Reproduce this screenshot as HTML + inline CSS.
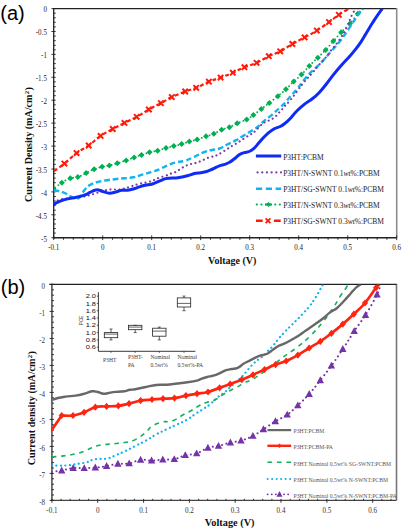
<!DOCTYPE html>
<html><head><meta charset="utf-8"><style>
html,body{margin:0;padding:0;background:#fff;}
svg{display:block;}
text{font-family:"Liberation Serif",serif;fill:#111;}
.tl{font-size:8px;fill:#222;}
.at{font-size:10px;font-weight:bold;}
.pl{font-family:"Liberation Sans",sans-serif;font-size:20px;fill:#000;}
.lg{font-size:7.5px;fill:#222;}
.lgb{font-size:5.7px;fill:#555;}
.ins{font-family:"Liberation Sans",sans-serif;font-size:5.8px;fill:#111;}
.insl{font-family:"Liberation Sans",sans-serif;font-size:4.6px;fill:#333;}
.insx{font-size:5.6px;fill:#3a3a3a;}
</style></head><body>
<svg width="410" height="529" viewBox="0 0 410 529">
<rect width="410" height="529" fill="#fff"/>
<path d="M53.7,8.6H396.7" stroke="#222" stroke-width="1.2"/><path d="M396.7,8.0V237.7" stroke="#8c8c8c" stroke-width="1.6"/>
<line x1="53.7" y1="8.0" x2="53.7" y2="238.29999999999998" stroke="#222" stroke-width="1.3"/>
<line x1="53.0" y1="237.7" x2="396.7" y2="237.7" stroke="#222" stroke-width="1.4"/>
<path d="M51.4,8.6H55.7 M53.7,13.2H55.8 M53.7,17.8H55.8 M53.7,22.3H55.8 M53.7,26.9H55.8 M51.4,31.5H55.7 M53.7,36.1H55.8 M53.7,40.7H55.8 M53.7,45.3H55.8 M53.7,49.8H55.8 M51.4,54.4H55.7 M53.7,59.0H55.8 M53.7,63.6H55.8 M53.7,68.2H55.8 M53.7,72.7H55.8 M51.4,77.3H55.7 M53.7,81.9H55.8 M53.7,86.5H55.8 M53.7,91.1H55.8 M53.7,95.7H55.8 M51.4,100.2H55.7 M53.7,104.8H55.8 M53.7,109.4H55.8 M53.7,114.0H55.8 M53.7,118.6H55.8 M51.4,123.1H55.7 M53.7,127.7H55.8 M53.7,132.3H55.8 M53.7,136.9H55.8 M53.7,141.5H55.8 M51.4,146.1H55.7 M53.7,150.6H55.8 M53.7,155.2H55.8 M53.7,159.8H55.8 M53.7,164.4H55.8 M51.4,169.0H55.7 M53.7,173.6H55.8 M53.7,178.1H55.8 M53.7,182.7H55.8 M53.7,187.3H55.8 M51.4,191.9H55.7 M53.7,196.5H55.8 M53.7,201.0H55.8 M53.7,205.6H55.8 M53.7,210.2H55.8 M51.4,214.8H55.7 M53.7,219.4H55.8 M53.7,224.0H55.8 M53.7,228.5H55.8 M53.7,233.1H55.8 M51.4,237.7H55.7 M53.7,235.4V240.1 M63.5,237.7V239.8 M73.3,237.7V239.8 M83.1,237.7V239.8 M92.9,237.7V239.8 M102.7,235.4V240.1 M112.5,237.7V239.8 M122.3,237.7V239.8 M132.1,237.7V239.8 M141.9,237.7V239.8 M151.7,235.4V240.1 M161.5,237.7V239.8 M171.3,237.7V239.8 M181.1,237.7V239.8 M190.9,237.7V239.8 M200.7,235.4V240.1 M210.5,237.7V239.8 M220.3,237.7V239.8 M230.1,237.7V239.8 M239.9,237.7V239.8 M249.7,235.4V240.1 M259.5,237.7V239.8 M269.3,237.7V239.8 M279.1,237.7V239.8 M288.9,237.7V239.8 M298.7,235.4V240.1 M308.5,237.7V239.8 M318.3,237.7V239.8 M328.1,237.7V239.8 M337.9,237.7V239.8 M347.7,235.4V240.1 M357.5,237.7V239.8 M367.3,237.7V239.8 M377.1,237.7V239.8 M386.9,237.7V239.8 M396.7,235.4V240.1" stroke="#222" stroke-width="0.9" fill="none"/>
<text transform="translate(46.9,12.4) scale(0.88,1)" text-anchor="end" class="tl">0</text>
<text transform="translate(46.9,35.3) scale(0.88,1)" text-anchor="end" class="tl">-0.5</text>
<text transform="translate(46.9,58.2) scale(0.88,1)" text-anchor="end" class="tl">-1</text>
<text transform="translate(46.9,81.1) scale(0.88,1)" text-anchor="end" class="tl">-1.5</text>
<text transform="translate(46.9,104.0) scale(0.88,1)" text-anchor="end" class="tl">-2</text>
<text transform="translate(46.9,126.9) scale(0.88,1)" text-anchor="end" class="tl">-2.5</text>
<text transform="translate(46.9,149.9) scale(0.88,1)" text-anchor="end" class="tl">-3</text>
<text transform="translate(46.9,172.8) scale(0.88,1)" text-anchor="end" class="tl">-3.5</text>
<text transform="translate(46.9,195.7) scale(0.88,1)" text-anchor="end" class="tl">-4</text>
<text transform="translate(46.9,218.6) scale(0.88,1)" text-anchor="end" class="tl">-4.5</text>
<text transform="translate(46.9,241.5) scale(0.88,1)" text-anchor="end" class="tl">-5</text>
<text transform="translate(53.7,250.2) scale(0.88,1)" text-anchor="middle" class="tl">-0.1</text>
<text transform="translate(102.7,250.2) scale(0.88,1)" text-anchor="middle" class="tl">0</text>
<text transform="translate(151.7,250.2) scale(0.88,1)" text-anchor="middle" class="tl">0.1</text>
<text transform="translate(200.7,250.2) scale(0.88,1)" text-anchor="middle" class="tl">0.2</text>
<text transform="translate(249.7,250.2) scale(0.88,1)" text-anchor="middle" class="tl">0.3</text>
<text transform="translate(298.7,250.2) scale(0.88,1)" text-anchor="middle" class="tl">0.4</text>
<text transform="translate(347.7,250.2) scale(0.88,1)" text-anchor="middle" class="tl">0.5</text>
<text transform="translate(396.7,250.2) scale(0.88,1)" text-anchor="middle" class="tl">0.6</text>
<text x="232.2" y="263.8" text-anchor="middle" class="at">Voltage (V)</text>
<text transform="translate(32.4,202) rotate(-90)" class="at" style="font-size:10.1px">Current Density (mA/cm<tspan dy="-3.6" dx="0.2" font-size="6.8">2</tspan><tspan dy="3.6" dx="0.5">)</tspan></text>
<text x="0.3" y="19.9" class="pl">(a)</text>
<path d="M396.5,283.79999999999995V500.4" stroke="#777" stroke-width="1.6"/>
<line x1="51.9" y1="283.79999999999995" x2="51.9" y2="501.0" stroke="#555" stroke-width="1.6"/>
<line x1="49.4" y1="284.4" x2="396.5" y2="284.4" stroke="#222" stroke-width="1.3"/>
<line x1="51.199999999999996" y1="500.4" x2="396.5" y2="500.4" stroke="#444" stroke-width="1.3"/>
<path d="M49.6,284.4H53.9 M51.9,289.8H54.0 M51.9,295.2H54.0 M51.9,300.6H54.0 M51.9,306.0H54.0 M49.6,311.4H53.9 M51.9,316.8H54.0 M51.9,322.2H54.0 M51.9,327.6H54.0 M51.9,333.0H54.0 M49.6,338.4H53.9 M51.9,343.8H54.0 M51.9,349.2H54.0 M51.9,354.6H54.0 M51.9,360.0H54.0 M49.6,365.4H53.9 M51.9,370.8H54.0 M51.9,376.2H54.0 M51.9,381.6H54.0 M51.9,387.0H54.0 M49.6,392.4H53.9 M51.9,397.8H54.0 M51.9,403.2H54.0 M51.9,408.6H54.0 M51.9,414.0H54.0 M49.6,419.4H53.9 M51.9,424.8H54.0 M51.9,430.2H54.0 M51.9,435.6H54.0 M51.9,441.0H54.0 M49.6,446.4H53.9 M51.9,451.8H54.0 M51.9,457.2H54.0 M51.9,462.6H54.0 M51.9,468.0H54.0 M49.6,473.4H53.9 M51.9,478.8H54.0 M51.9,484.2H54.0 M51.9,489.6H54.0 M51.9,495.0H54.0 M49.6,500.4H53.9 M51.9,498.9V502.8 M61.1,498.8V500.4 M70.2,498.8V500.4 M79.4,498.8V500.4 M88.6,498.8V500.4 M97.7,498.9V502.8 M106.9,498.8V500.4 M116.1,498.8V500.4 M125.2,498.8V500.4 M134.4,498.8V500.4 M143.6,498.9V502.8 M152.7,498.8V500.4 M161.9,498.8V500.4 M171.1,498.8V500.4 M180.2,498.8V500.4 M189.4,498.9V502.8 M198.6,498.8V500.4 M207.7,498.8V500.4 M216.9,498.8V500.4 M226.0,498.8V500.4 M235.2,498.9V502.8 M244.4,498.8V500.4 M253.5,498.8V500.4 M262.7,498.8V500.4 M271.9,498.8V500.4 M281.0,498.9V502.8 M290.2,498.8V500.4 M299.4,498.8V500.4 M308.5,498.8V500.4 M317.7,498.8V500.4 M326.9,498.9V502.8 M336.0,498.8V500.4 M345.2,498.8V500.4 M354.4,498.8V500.4 M363.5,498.8V500.4 M372.7,498.9V502.8 M381.9,498.8V500.4 M391.0,498.8V500.4" stroke="#222" stroke-width="0.9" fill="none"/>
<text transform="translate(45.1,288.6) scale(0.84,1)" text-anchor="end" class="tl" style="font-size:8.4px;fill:#333">0</text>
<text transform="translate(45.1,315.6) scale(0.84,1)" text-anchor="end" class="tl" style="font-size:8.4px;fill:#333">-1</text>
<text transform="translate(45.1,342.6) scale(0.84,1)" text-anchor="end" class="tl" style="font-size:8.4px;fill:#333">-2</text>
<text transform="translate(45.1,369.6) scale(0.84,1)" text-anchor="end" class="tl" style="font-size:8.4px;fill:#333">-3</text>
<text transform="translate(45.1,396.6) scale(0.84,1)" text-anchor="end" class="tl" style="font-size:8.4px;fill:#333">-4</text>
<text transform="translate(45.1,423.6) scale(0.84,1)" text-anchor="end" class="tl" style="font-size:8.4px;fill:#333">-5</text>
<text transform="translate(45.1,450.6) scale(0.84,1)" text-anchor="end" class="tl" style="font-size:8.4px;fill:#333">-6</text>
<text transform="translate(45.1,477.6) scale(0.84,1)" text-anchor="end" class="tl" style="font-size:8.4px;fill:#333">-7</text>
<text transform="translate(45.1,504.6) scale(0.84,1)" text-anchor="end" class="tl" style="font-size:8.4px;fill:#333">-8</text>
<text transform="translate(51.9,513.3) scale(0.84,1)" text-anchor="middle" class="tl" style="font-size:8.4px;fill:#333">-0.1</text>
<text transform="translate(97.7,513.3) scale(0.84,1)" text-anchor="middle" class="tl" style="font-size:8.4px;fill:#333">0</text>
<text transform="translate(143.6,513.3) scale(0.84,1)" text-anchor="middle" class="tl" style="font-size:8.4px;fill:#333">0.1</text>
<text transform="translate(189.4,513.3) scale(0.84,1)" text-anchor="middle" class="tl" style="font-size:8.4px;fill:#333">0.2</text>
<text transform="translate(235.2,513.3) scale(0.84,1)" text-anchor="middle" class="tl" style="font-size:8.4px;fill:#333">0.3</text>
<text transform="translate(281.0,513.3) scale(0.84,1)" text-anchor="middle" class="tl" style="font-size:8.4px;fill:#333">0.4</text>
<text transform="translate(326.9,513.3) scale(0.84,1)" text-anchor="middle" class="tl" style="font-size:8.4px;fill:#333">0.5</text>
<text transform="translate(372.7,513.3) scale(0.84,1)" text-anchor="middle" class="tl" style="font-size:8.4px;fill:#333">0.6</text>
<text x="229.7" y="526" text-anchor="middle" class="at" style="font-size:10.3px">Voltage (V)</text>
<text transform="translate(35.4,465.3) rotate(-90)" class="at" style="font-size:10.2px">Current density (mA/cm<tspan dy="-3.6" dx="0.2" font-size="6.8">2</tspan><tspan dy="3.6" dx="0.5">)</tspan></text>
<text x="0.8" y="294" class="pl">(b)</text>
<svg x="53.7" y="8.6" width="343.0" height="229.1" viewBox="53.7 8.6 343.0 229.1" overflow="hidden"><g fill="none" stroke-linejoin="round">
<path d="M53.9,171.2 C56.0,169.7 59.9,167.2 64.4,163.6 C68.9,160.0 71.7,156.7 76.6,153.1 C81.5,149.5 83.9,148.9 88.7,145.5 C93.5,142.1 95.8,139.2 100.6,135.9 C105.4,132.6 108.0,131.6 112.8,129.0 C117.6,126.4 119.7,125.3 124.5,122.9 C129.3,120.5 131.8,119.5 136.7,116.8 C141.6,114.1 144.1,112.2 148.9,109.5 C153.7,106.8 156.3,105.7 160.9,103.2 C165.5,100.7 166.9,99.4 171.8,97.1 C176.7,94.8 180.3,93.4 185.2,91.5 C190.1,89.6 191.5,89.8 196.2,87.8 C200.9,85.8 204.0,83.7 208.9,81.7 C213.8,79.7 215.8,79.4 220.6,77.6 C225.4,75.8 228.0,74.8 232.8,72.7 C237.6,70.6 239.6,69.2 244.4,67.2 C249.2,65.2 251.7,65.0 256.6,62.8 C261.5,60.6 264.1,58.5 268.8,56.2 C273.5,53.9 275.5,53.7 280.2,51.3 C284.9,48.9 287.5,46.8 292.4,44.0 C297.3,41.2 299.7,40.1 304.6,37.4 C309.5,34.7 311.9,33.7 316.8,30.6 C321.7,27.5 324.6,25.3 329.0,22.1 C333.4,18.9 334.8,17.5 338.8,14.8 C342.8,12.1 347.0,9.8 349.0,8.6" stroke="#ff1a0a" stroke-width="2.2" stroke-dasharray="4.2 2.6"/>
<path d="M61.7,160.9L67.1,166.3M61.7,166.3L67.1,160.9" stroke="#ff1a0a" stroke-width="2"/>
<path d="M73.9,150.4L79.3,155.8M73.9,155.8L79.3,150.4" stroke="#ff1a0a" stroke-width="2"/>
<path d="M86.0,142.8L91.4,148.2M86.0,148.2L91.4,142.8" stroke="#ff1a0a" stroke-width="2"/>
<path d="M97.9,133.2L103.3,138.6M97.9,138.6L103.3,133.2" stroke="#ff1a0a" stroke-width="2"/>
<path d="M110.1,126.3L115.5,131.7M110.1,131.7L115.5,126.3" stroke="#ff1a0a" stroke-width="2"/>
<path d="M121.8,120.2L127.2,125.6M121.8,125.6L127.2,120.2" stroke="#ff1a0a" stroke-width="2"/>
<path d="M134.0,114.1L139.4,119.5M134.0,119.5L139.4,114.1" stroke="#ff1a0a" stroke-width="2"/>
<path d="M146.2,106.8L151.6,112.2M146.2,112.2L151.6,106.8" stroke="#ff1a0a" stroke-width="2"/>
<path d="M158.2,100.5L163.6,105.9M158.2,105.9L163.6,100.5" stroke="#ff1a0a" stroke-width="2"/>
<path d="M169.1,94.4L174.5,99.8M169.1,99.8L174.5,94.4" stroke="#ff1a0a" stroke-width="2"/>
<path d="M182.5,88.8L187.9,94.2M182.5,94.2L187.9,88.8" stroke="#ff1a0a" stroke-width="2"/>
<path d="M193.5,85.1L198.9,90.5M193.5,90.5L198.9,85.1" stroke="#ff1a0a" stroke-width="2"/>
<path d="M206.2,79.0L211.6,84.4M206.2,84.4L211.6,79.0" stroke="#ff1a0a" stroke-width="2"/>
<path d="M217.9,74.9L223.3,80.3M217.9,80.3L223.3,74.9" stroke="#ff1a0a" stroke-width="2"/>
<path d="M230.1,70.0L235.5,75.4M230.1,75.4L235.5,70.0" stroke="#ff1a0a" stroke-width="2"/>
<path d="M241.7,64.5L247.1,69.9M241.7,69.9L247.1,64.5" stroke="#ff1a0a" stroke-width="2"/>
<path d="M253.9,60.1L259.3,65.5M253.9,65.5L259.3,60.1" stroke="#ff1a0a" stroke-width="2"/>
<path d="M266.1,53.5L271.5,58.9M266.1,58.9L271.5,53.5" stroke="#ff1a0a" stroke-width="2"/>
<path d="M277.5,48.6L282.9,54.0M277.5,54.0L282.9,48.6" stroke="#ff1a0a" stroke-width="2"/>
<path d="M289.7,41.3L295.1,46.7M289.7,46.7L295.1,41.3" stroke="#ff1a0a" stroke-width="2"/>
<path d="M301.9,34.7L307.3,40.1M301.9,40.1L307.3,34.7" stroke="#ff1a0a" stroke-width="2"/>
<path d="M314.1,27.9L319.5,33.3M314.1,33.3L319.5,27.9" stroke="#ff1a0a" stroke-width="2"/>
<path d="M326.3,19.4L331.7,24.8M326.3,24.8L331.7,19.4" stroke="#ff1a0a" stroke-width="2"/>
<path d="M336.1,12.1L341.5,17.5M336.1,17.5L341.5,12.1" stroke="#ff1a0a" stroke-width="2"/>
<path d="M53.7,189.0 C55.3,187.7 58.5,184.8 61.8,182.7 C65.1,180.6 67.1,179.4 70.3,178.3 C73.5,177.2 74.7,178.2 77.9,177.1 C81.1,176.0 83.0,174.5 86.2,172.9 C89.4,171.3 90.9,170.5 94.1,169.3 C97.3,168.1 99.0,167.6 102.1,166.8 C105.2,166.0 106.4,166.1 109.4,165.4 C112.4,164.7 114.0,164.3 117.3,163.3 C120.6,162.3 122.7,161.6 126.1,160.4 C129.5,159.2 131.0,158.5 134.1,157.4 C137.2,156.3 138.4,156.0 141.5,155.0 C144.6,154.0 146.3,153.2 149.5,152.3 C152.7,151.4 154.3,151.6 157.6,150.7 C160.9,149.8 162.8,148.9 166.0,148.0 C169.2,147.1 170.7,146.9 173.8,146.1 C176.9,145.3 178.5,145.0 181.6,144.1 C184.7,143.2 186.3,142.5 189.4,141.6 C192.5,140.7 193.9,140.6 197.2,139.5 C200.5,138.4 202.7,137.4 206.0,136.3 C209.3,135.2 210.7,135.1 213.8,133.8 C216.9,132.5 218.5,131.0 221.6,129.7 C224.7,128.4 226.3,128.5 229.4,127.2 C232.5,125.9 233.7,124.9 237.2,123.3 C240.7,121.7 243.5,121.0 246.7,119.4 C249.9,117.8 250.5,117.2 253.4,115.1 C256.3,113.0 258.1,111.4 261.3,109.0 C264.5,106.6 266.0,105.5 269.3,102.9 C272.6,100.3 274.5,98.9 277.8,96.2 C281.1,93.5 282.7,92.2 285.9,89.3 C289.1,86.4 290.6,84.4 293.7,81.5 C296.8,78.6 298.4,77.7 301.5,74.6 C304.6,71.5 306.0,69.3 309.3,65.9 C312.6,62.5 314.5,60.9 317.8,57.7 C321.1,54.5 322.5,53.2 325.6,49.9 C328.7,46.6 330.3,44.6 333.4,41.1 C336.5,37.6 337.9,35.8 341.2,32.3 C344.5,28.8 346.7,27.2 350.0,23.5 C353.3,19.8 355.1,16.8 357.8,13.8 C360.5,10.8 362.5,9.6 363.7,8.6" stroke="#00b050" stroke-width="1.8" stroke-dasharray="0.1 4" stroke-dashoffset="-2" stroke-linecap="round"/>
<path d="M53.7,186.0L56.7,189.0L53.7,192.0L50.7,189.0Z" fill="#00b050" stroke="none"/>
<path d="M61.8,179.7L64.8,182.7L61.8,185.7L58.8,182.7Z" fill="#00b050" stroke="none"/>
<path d="M70.3,175.3L73.3,178.3L70.3,181.3L67.3,178.3Z" fill="#00b050" stroke="none"/>
<path d="M77.9,174.1L80.9,177.1L77.9,180.1L74.9,177.1Z" fill="#00b050" stroke="none"/>
<path d="M86.2,169.9L89.2,172.9L86.2,175.9L83.2,172.9Z" fill="#00b050" stroke="none"/>
<path d="M94.1,166.3L97.1,169.3L94.1,172.3L91.1,169.3Z" fill="#00b050" stroke="none"/>
<path d="M102.1,163.8L105.1,166.8L102.1,169.8L99.1,166.8Z" fill="#00b050" stroke="none"/>
<path d="M109.4,162.4L112.4,165.4L109.4,168.4L106.4,165.4Z" fill="#00b050" stroke="none"/>
<path d="M117.3,160.3L120.3,163.3L117.3,166.3L114.3,163.3Z" fill="#00b050" stroke="none"/>
<path d="M126.1,157.4L129.1,160.4L126.1,163.4L123.1,160.4Z" fill="#00b050" stroke="none"/>
<path d="M134.1,154.4L137.1,157.4L134.1,160.4L131.1,157.4Z" fill="#00b050" stroke="none"/>
<path d="M141.5,152.0L144.5,155.0L141.5,158.0L138.5,155.0Z" fill="#00b050" stroke="none"/>
<path d="M149.5,149.3L152.5,152.3L149.5,155.3L146.5,152.3Z" fill="#00b050" stroke="none"/>
<path d="M157.6,147.7L160.6,150.7L157.6,153.7L154.6,150.7Z" fill="#00b050" stroke="none"/>
<path d="M166.0,145.0L169.0,148.0L166.0,151.0L163.0,148.0Z" fill="#00b050" stroke="none"/>
<path d="M173.8,143.1L176.8,146.1L173.8,149.1L170.8,146.1Z" fill="#00b050" stroke="none"/>
<path d="M181.6,141.1L184.6,144.1L181.6,147.1L178.6,144.1Z" fill="#00b050" stroke="none"/>
<path d="M189.4,138.6L192.4,141.6L189.4,144.6L186.4,141.6Z" fill="#00b050" stroke="none"/>
<path d="M197.2,136.5L200.2,139.5L197.2,142.5L194.2,139.5Z" fill="#00b050" stroke="none"/>
<path d="M206.0,133.3L209.0,136.3L206.0,139.3L203.0,136.3Z" fill="#00b050" stroke="none"/>
<path d="M213.8,130.8L216.8,133.8L213.8,136.8L210.8,133.8Z" fill="#00b050" stroke="none"/>
<path d="M221.6,126.7L224.6,129.7L221.6,132.7L218.6,129.7Z" fill="#00b050" stroke="none"/>
<path d="M229.4,124.2L232.4,127.2L229.4,130.2L226.4,127.2Z" fill="#00b050" stroke="none"/>
<path d="M237.2,120.3L240.2,123.3L237.2,126.3L234.2,123.3Z" fill="#00b050" stroke="none"/>
<path d="M246.7,116.4L249.7,119.4L246.7,122.4L243.7,119.4Z" fill="#00b050" stroke="none"/>
<path d="M253.4,112.1L256.4,115.1L253.4,118.1L250.4,115.1Z" fill="#00b050" stroke="none"/>
<path d="M261.3,106.0L264.3,109.0L261.3,112.0L258.3,109.0Z" fill="#00b050" stroke="none"/>
<path d="M269.3,99.9L272.3,102.9L269.3,105.9L266.3,102.9Z" fill="#00b050" stroke="none"/>
<path d="M277.8,93.2L280.8,96.2L277.8,99.2L274.8,96.2Z" fill="#00b050" stroke="none"/>
<path d="M285.9,86.3L288.9,89.3L285.9,92.3L282.9,89.3Z" fill="#00b050" stroke="none"/>
<path d="M293.7,78.5L296.7,81.5L293.7,84.5L290.7,81.5Z" fill="#00b050" stroke="none"/>
<path d="M301.5,71.6L304.5,74.6L301.5,77.6L298.5,74.6Z" fill="#00b050" stroke="none"/>
<path d="M309.3,62.9L312.3,65.9L309.3,68.9L306.3,65.9Z" fill="#00b050" stroke="none"/>
<path d="M317.8,54.7L320.8,57.7L317.8,60.7L314.8,57.7Z" fill="#00b050" stroke="none"/>
<path d="M325.6,46.9L328.6,49.9L325.6,52.9L322.6,49.9Z" fill="#00b050" stroke="none"/>
<path d="M333.4,38.1L336.4,41.1L333.4,44.1L330.4,41.1Z" fill="#00b050" stroke="none"/>
<path d="M341.2,29.3L344.2,32.3L341.2,35.3L338.2,32.3Z" fill="#00b050" stroke="none"/>
<path d="M350.0,20.5L353.0,23.5L350.0,26.5L347.0,23.5Z" fill="#00b050" stroke="none"/>
<path d="M357.8,10.8L360.8,13.8L357.8,16.8L354.8,13.8Z" fill="#00b050" stroke="none"/>
<path d="M53.7,190.7 C54.7,190.8 56.7,190.5 58.9,191.0 C61.1,191.5 62.3,191.9 64.7,193.0 C67.1,194.1 68.5,195.3 71.0,196.5 C73.5,197.7 75.1,199.3 77.1,199.0 C79.1,198.7 79.4,196.9 81.0,195.0 C82.6,193.1 83.2,191.4 85.0,189.4 C86.8,187.4 87.5,186.6 89.9,185.1 C92.3,183.6 93.8,183.1 97.2,182.1 C100.6,181.1 103.1,180.8 107.0,180.2 C110.9,179.6 113.1,179.4 116.7,179.0 C120.3,178.6 121.8,178.5 125.2,178.2 C128.6,177.9 130.2,178.0 133.6,177.3 C137.0,176.6 138.7,175.7 142.2,174.7 C145.7,173.7 147.5,173.2 151.0,172.1 C154.5,171.0 157.0,170.2 159.8,169.1 C162.6,168.0 162.0,167.9 165.0,166.6 C168.0,165.3 170.9,163.7 174.8,162.6 C178.7,161.5 180.6,162.1 184.5,160.9 C188.4,159.7 190.4,158.5 194.3,156.8 C198.2,155.1 200.5,153.6 204.0,152.2 C207.5,150.8 208.7,150.7 211.8,150.0 C214.9,149.3 216.5,149.6 219.6,148.5 C222.7,147.4 224.0,146.1 227.2,144.5 C230.4,142.9 232.5,142.1 235.7,140.4 C238.9,138.7 239.7,138.0 243.0,136.0 C246.3,134.0 249.1,132.3 252.2,130.4 C255.3,128.5 255.9,128.5 258.3,126.5 C260.7,124.5 261.7,122.9 264.4,120.6 C267.1,118.3 268.8,117.5 271.7,115.1 C274.6,112.7 276.3,110.8 279.0,108.4 C281.7,106.0 282.9,105.2 285.1,102.9 C287.3,100.6 287.6,99.6 290.0,96.8 C292.4,94.0 294.4,92.3 297.3,88.8 C300.2,85.3 301.7,82.8 304.6,79.3 C307.5,75.8 309.1,74.1 312.0,71.2 C314.9,68.3 316.4,67.5 319.3,64.6 C322.2,61.7 324.3,59.3 326.6,56.6 C328.9,53.9 328.5,54.2 331.0,51.3 C333.5,48.4 335.7,46.7 339.3,42.1 C342.9,37.5 345.5,33.5 349.0,28.4 C352.5,23.3 354.1,20.7 356.8,16.7 C359.5,12.7 361.5,10.2 362.7,8.6" stroke="#10b4f0" stroke-width="2.4" stroke-dasharray="5.5 3"/>
<path d="M53.7,202.4 C55.0,201.8 57.5,200.3 60.3,199.5 C63.1,198.7 64.7,198.7 67.6,198.3 C70.5,197.9 71.7,197.9 75.0,197.6 C78.3,197.3 80.3,197.3 84.0,196.6 C87.7,195.9 89.9,195.2 93.5,194.1 C97.1,193.0 98.7,192.1 102.1,191.2 C105.5,190.3 107.2,189.7 110.6,189.4 C114.0,189.1 116.4,189.8 119.1,189.6 C121.8,189.4 121.3,189.3 124.0,188.6 C126.7,187.9 129.5,186.9 132.6,185.9 C135.7,184.9 136.2,184.6 139.3,183.8 C142.4,183.0 145.1,182.8 148.0,182.1 C150.9,181.4 151.8,180.9 153.9,180.1 C156.0,179.3 156.0,178.9 158.3,178.0 C160.6,177.1 163.3,176.6 165.6,175.8 C167.9,175.0 168.3,174.5 170.0,173.9 C171.7,173.3 172.7,173.3 174.3,172.6 C175.9,171.9 176.3,171.6 177.9,170.6 C179.5,169.6 180.5,168.8 182.2,167.8 C183.9,166.8 184.8,166.2 186.5,165.5 C188.2,164.8 189.0,164.6 190.7,164.1 C192.4,163.6 193.3,163.7 195.0,163.2 C196.7,162.7 197.7,162.3 199.3,161.7 C200.9,161.1 201.4,160.8 203.0,160.1 C204.6,159.4 205.5,158.8 207.2,158.1 C208.9,157.4 209.8,157.3 211.5,156.8 C213.2,156.3 213.3,156.9 215.7,155.8 C218.1,154.7 220.2,153.3 223.5,151.3 C226.8,149.3 228.9,147.8 232.1,145.9 C235.3,144.0 236.6,143.4 239.4,141.6 C242.2,139.8 243.9,138.5 246.1,137.1 C248.3,135.7 248.8,135.6 250.4,134.6 C252.0,133.6 252.1,133.9 254.0,132.2 C255.9,130.5 258.0,128.1 260.1,126.1 C262.2,124.1 262.8,123.4 264.4,122.4 C266.0,121.4 266.4,121.6 268.0,120.9 C269.6,120.2 270.7,119.8 272.3,118.8 C273.9,117.8 274.7,117.2 276.0,116.0 C277.3,114.8 277.8,114.0 279.0,112.7 C280.2,111.4 280.9,110.8 282.1,109.4 C283.3,108.0 283.5,107.5 285.1,105.7 C286.7,103.9 287.6,103.4 290.0,100.5 C292.4,97.6 294.4,94.8 297.3,91.0 C300.2,87.2 301.7,85.0 304.6,81.5 C307.5,78.0 309.1,76.8 312.0,73.4 C314.9,70.0 316.4,68.0 319.3,64.6 C322.2,61.2 324.4,59.2 326.6,56.6 C328.8,54.0 327.7,54.8 330.2,51.5 C332.7,48.2 335.9,45.1 339.3,40.1 C342.7,35.1 344.6,31.6 347.1,26.5 C349.6,21.4 350.2,18.4 352.0,14.8 C353.8,11.2 355.1,9.8 355.9,8.6" stroke="#7a3aa8" stroke-width="2.1" stroke-dasharray="0.1 4.4" stroke-linecap="round"/>
<path d="M53.7,204.2 C55.0,203.6 57.5,202.3 60.3,201.2 C63.1,200.1 64.4,199.7 67.6,198.9 C70.8,198.1 72.9,198.1 76.4,197.3 C79.9,196.5 82.3,195.9 85.0,194.9 C87.7,193.9 87.9,193.3 89.9,192.4 C91.9,191.5 93.1,190.7 94.8,190.2 C96.5,189.7 96.7,189.6 98.4,189.9 C100.1,190.2 101.1,190.9 103.3,191.6 C105.5,192.3 107.0,193.1 109.4,193.2 C111.8,193.3 113.1,192.7 115.5,192.1 C117.9,191.5 119.2,190.7 121.6,190.3 C124.0,189.9 125.0,190.6 127.7,190.2 C130.4,189.8 132.7,189.2 135.0,188.5 C137.3,187.8 137.3,187.5 139.3,186.9 C141.3,186.3 142.5,185.9 145.1,185.3 C147.7,184.7 149.5,184.9 152.4,184.0 C155.3,183.1 157.2,182.0 159.8,180.9 C162.4,179.8 163.6,179.1 165.6,178.6 C167.6,178.1 167.9,178.3 170.0,178.2 C172.1,178.1 173.7,178.1 176.1,177.9 C178.5,177.7 179.8,177.5 182.2,177.0 C184.6,176.5 185.9,176.2 188.3,175.5 C190.7,174.8 192.0,174.1 194.4,173.5 C196.8,172.9 198.1,173.1 200.5,172.7 C202.9,172.3 204.2,172.2 206.6,171.5 C209.0,170.8 210.1,170.1 212.7,169.0 C215.3,167.9 217.0,166.7 219.4,165.8 C221.8,164.9 222.8,165.1 224.8,164.4 C226.8,163.7 227.7,163.4 229.6,162.3 C231.5,161.2 232.5,160.2 234.5,158.7 C236.5,157.2 237.4,155.8 239.4,154.6 C241.4,153.4 242.4,153.2 244.3,152.6 C246.2,152.0 247.2,152.4 249.1,151.5 C251.0,150.6 252.0,150.0 254.0,148.3 C256.0,146.6 256.9,145.0 258.9,142.8 C260.9,140.6 261.7,139.4 263.8,137.3 C265.9,135.2 267.2,133.9 269.3,132.2 C271.4,130.5 271.9,129.9 274.1,128.8 C276.3,127.7 278.0,127.6 280.2,126.5 C282.4,125.4 283.1,124.8 285.1,123.3 C287.1,121.8 287.6,121.4 290.0,118.8 C292.4,116.2 294.4,113.4 297.3,110.5 C300.2,107.6 301.7,106.4 304.6,104.1 C307.5,101.8 309.1,101.3 312.0,99.0 C314.9,96.7 316.4,95.5 319.3,92.4 C322.2,89.3 323.7,87.4 326.6,83.7 C329.5,80.0 331.0,77.8 333.9,74.1 C336.8,70.4 338.0,69.0 341.2,65.4 C344.4,61.8 347.1,59.1 350.0,55.9 C352.9,52.7 353.3,52.2 355.5,49.4 C357.7,46.6 359.0,44.8 361.0,41.8 C363.0,38.8 363.6,37.5 365.4,34.6 C367.2,31.7 368.1,30.0 369.8,27.2 C371.5,24.4 372.4,23.1 374.1,20.4 C375.8,17.7 376.8,16.2 378.5,13.8 C380.2,11.4 381.6,9.6 382.4,8.6" stroke="#0f2cf6" stroke-width="3"/>
</g></svg>
<path d="M255.9,156.0H281.2" stroke="#0f2cf6" stroke-width="3"/>
<path d="M257.5,172.4H281" stroke="#7a3aa8" stroke-width="2.1" stroke-dasharray="0.1 4.6" stroke-linecap="round"/>
<path d="M256,188.7H281.2" stroke="#10b4f0" stroke-width="2.4" stroke-dasharray="6.2 3.6"/>
<path d="M256.8,204.5H281" stroke="#00b050" stroke-width="2.2" stroke-dasharray="0.1 4.5" stroke-linecap="round"/>
<path d="M265,204.5H272" stroke="#00b050" stroke-width="2"/><path d="M268.5,202.0L271,204.5L268.5,207.0L266,204.5Z" fill="#00b050"/>
<path d="M256,220.8H262.7M273.9,220.8H280.7" stroke="#ff1a0a" stroke-width="2.4"/>
<path d="M265.6,218.4L270.4,223.20000000000002M265.6,223.20000000000002L270.4,218.4" stroke="#ff1a0a" stroke-width="1.8"/>
<text x="283.2" y="159.5" class="lg">P3HT:PCBM</text>
<text x="283.2" y="175.5" class="lg">P3HT/N-SWNT 0.1<tspan font-style="italic">wt</tspan>%:PCBM</text>
<text x="283.2" y="191.8" class="lg">P3HT/SG-SWNT 0.1<tspan font-style="italic">wt</tspan>%:PCBM</text>
<text x="283.2" y="207.6" class="lg">P3HT/N-SWNT 0.3<tspan font-style="italic">wt</tspan>%:PCBM</text>
<text x="283.2" y="223.9" class="lg">P3HT/SG-SWNT 0.3<tspan font-style="italic">wt</tspan>%:PCBM</text>
<svg x="51.9" y="284.4" width="344.6" height="216.0" viewBox="51.9 284.4 344.6 216.0" overflow="hidden"><g fill="none" stroke-linejoin="round">
<path d="M51.9,472.0 C53.9,471.7 57.4,471.3 61.7,470.5 C66.0,469.7 68.7,468.5 73.2,468.0 C77.7,467.5 79.8,468.3 84.2,468.2 C88.6,468.1 90.8,467.9 95.3,467.5 C99.8,467.1 102.1,466.8 106.6,466.1 C111.1,465.4 113.4,464.3 117.9,463.8 C122.4,463.3 124.7,464.2 129.2,463.4 C133.7,462.6 136.1,460.4 140.6,459.8 C145.1,459.2 147.2,460.6 151.6,460.6 C156.0,460.6 158.3,459.9 162.8,459.6 C167.3,459.3 169.8,460.1 174.3,459.2 C178.8,458.3 180.8,456.4 185.3,455.2 C189.8,454.0 192.2,454.9 196.7,453.4 C201.2,451.9 203.5,449.3 207.9,447.8 C212.3,446.3 214.0,447.0 218.5,445.9 C223.0,444.8 225.9,443.6 230.4,442.5 C234.9,441.4 236.5,441.9 241.0,440.6 C245.5,439.3 248.4,438.2 252.9,435.9 C257.4,433.6 259.0,432.2 263.5,429.3 C268.0,426.4 270.7,424.2 275.4,421.3 C280.1,418.4 282.7,417.9 287.2,414.7 C291.7,411.5 293.4,409.5 297.8,405.4 C302.2,401.3 304.7,399.0 309.2,394.0 C313.7,389.0 315.9,386.0 320.3,380.3 C324.7,374.6 326.9,371.9 331.4,365.7 C335.9,359.5 338.2,356.0 342.8,349.1 C347.4,342.2 349.7,338.0 354.2,331.2 C358.7,324.4 360.9,322.3 365.5,315.0 C370.1,307.7 374.0,300.6 377.0,294.5 C380.0,288.4 379.7,286.4 380.4,284.4" stroke="#7434a8" stroke-width="2" stroke-dasharray="0.1 4.6" stroke-linecap="round"/>
<path d="M61.7,466.5L65.4,473.4L58.0,473.4Z" fill="#7434a8" stroke="none"/>
<path d="M73.2,464.0L76.9,470.9L69.5,470.9Z" fill="#7434a8" stroke="none"/>
<path d="M84.2,464.2L87.9,471.1L80.5,471.1Z" fill="#7434a8" stroke="none"/>
<path d="M95.3,463.5L99.0,470.4L91.6,470.4Z" fill="#7434a8" stroke="none"/>
<path d="M106.6,462.1L110.3,469.0L102.9,469.0Z" fill="#7434a8" stroke="none"/>
<path d="M117.9,459.8L121.6,466.7L114.2,466.7Z" fill="#7434a8" stroke="none"/>
<path d="M129.2,459.4L132.9,466.3L125.5,466.3Z" fill="#7434a8" stroke="none"/>
<path d="M140.6,455.8L144.3,462.7L136.9,462.7Z" fill="#7434a8" stroke="none"/>
<path d="M151.6,456.6L155.3,463.5L147.9,463.5Z" fill="#7434a8" stroke="none"/>
<path d="M162.8,455.6L166.5,462.5L159.1,462.5Z" fill="#7434a8" stroke="none"/>
<path d="M174.3,455.2L178.0,462.1L170.6,462.1Z" fill="#7434a8" stroke="none"/>
<path d="M185.3,451.2L189.0,458.1L181.6,458.1Z" fill="#7434a8" stroke="none"/>
<path d="M196.7,449.4L200.4,456.3L193.0,456.3Z" fill="#7434a8" stroke="none"/>
<path d="M207.9,443.8L211.6,450.7L204.2,450.7Z" fill="#7434a8" stroke="none"/>
<path d="M218.5,441.9L222.2,448.8L214.8,448.8Z" fill="#7434a8" stroke="none"/>
<path d="M230.4,438.5L234.1,445.4L226.7,445.4Z" fill="#7434a8" stroke="none"/>
<path d="M241.0,436.6L244.7,443.5L237.3,443.5Z" fill="#7434a8" stroke="none"/>
<path d="M252.9,431.9L256.6,438.8L249.2,438.8Z" fill="#7434a8" stroke="none"/>
<path d="M263.5,425.3L267.2,432.2L259.8,432.2Z" fill="#7434a8" stroke="none"/>
<path d="M275.4,417.3L279.1,424.2L271.7,424.2Z" fill="#7434a8" stroke="none"/>
<path d="M287.2,410.7L290.9,417.6L283.5,417.6Z" fill="#7434a8" stroke="none"/>
<path d="M297.8,401.4L301.5,408.3L294.1,408.3Z" fill="#7434a8" stroke="none"/>
<path d="M309.2,390.0L312.9,396.9L305.5,396.9Z" fill="#7434a8" stroke="none"/>
<path d="M320.3,376.3L324.0,383.2L316.6,383.2Z" fill="#7434a8" stroke="none"/>
<path d="M331.4,361.7L335.1,368.6L327.7,368.6Z" fill="#7434a8" stroke="none"/>
<path d="M342.8,345.1L346.5,352.0L339.1,352.0Z" fill="#7434a8" stroke="none"/>
<path d="M354.2,327.2L357.9,334.1L350.5,334.1Z" fill="#7434a8" stroke="none"/>
<path d="M365.5,311.0L369.2,317.9L361.8,317.9Z" fill="#7434a8" stroke="none"/>
<path d="M377.0,290.5L380.7,297.4L373.3,297.4Z" fill="#7434a8" stroke="none"/>
<path d="M51.9,465.1 C53.5,465.2 56.3,465.7 59.8,465.7 C63.3,465.7 65.6,465.5 69.5,465.1 C73.4,464.7 75.8,464.2 79.3,463.6 C82.8,463.0 84.4,463.0 87.1,462.2 C89.8,461.4 90.2,460.4 92.9,459.7 C95.6,459.0 97.6,459.2 100.7,458.9 C103.8,458.6 105.4,459.1 108.5,458.3 C111.6,457.5 113.0,456.4 116.3,455.0 C119.6,453.6 121.2,453.1 125.0,451.3 C128.8,449.5 131.2,448.0 135.4,445.9 C139.6,443.8 141.6,443.0 145.8,440.7 C150.0,438.4 152.0,436.7 156.2,434.4 C160.4,432.1 162.4,431.3 166.6,429.3 C170.8,427.3 172.8,426.5 177.0,424.5 C181.2,422.5 183.7,421.7 187.4,419.5 C191.1,417.3 192.4,415.9 195.7,413.7 C199.0,411.5 201.1,410.4 204.0,408.5 C206.9,406.6 207.6,406.3 210.0,404.3 C212.4,402.3 214.2,400.5 216.2,398.7 C218.2,396.9 218.4,396.6 219.9,395.5 C221.4,394.4 222.0,394.1 223.5,393.0 C225.0,391.9 225.9,391.3 227.2,390.1 C228.5,388.9 228.9,388.3 230.2,387.1 C231.5,385.9 232.5,385.2 233.9,384.0 C235.3,382.8 235.7,382.2 237.0,381.0 C238.3,379.8 239.3,379.1 240.6,377.9 C241.9,376.7 242.5,376.2 243.7,374.9 C244.9,373.6 245.5,372.7 246.7,371.2 C247.9,369.7 248.6,369.0 249.8,367.6 C251.0,366.2 251.6,365.4 252.8,364.2 C254.0,363.0 254.7,362.5 255.9,361.5 C257.1,360.5 257.4,360.1 258.9,359.0 C260.4,357.9 261.6,357.4 263.2,356.0 C264.8,354.6 264.8,354.1 266.7,352.2 C268.6,350.3 270.3,348.9 272.6,346.3 C274.9,343.7 276.1,341.8 278.4,339.0 C280.7,336.2 282.0,334.9 284.3,332.4 C286.6,329.9 287.8,328.9 290.1,326.6 C292.4,324.3 293.4,323.3 296.0,320.7 C298.6,318.1 300.3,316.4 303.0,313.5 C305.7,310.6 307.2,309.2 309.7,306.0 C312.2,302.8 313.1,301.3 315.5,297.5 C317.9,293.7 320.1,289.6 321.6,287.0 C323.1,284.4 322.6,284.9 322.8,284.4" stroke="#12b2f0" stroke-width="2.2" stroke-dasharray="0.1 4.4" stroke-linecap="round"/>
<path d="M51.9,456.9 C53.5,456.8 56.3,456.7 59.8,456.3 C63.3,455.9 65.6,455.7 69.5,455.0 C73.4,454.3 76.0,453.9 79.3,453.0 C82.6,452.1 84.0,451.4 86.1,450.5 C88.2,449.6 88.0,449.4 90.0,448.5 C92.0,447.6 93.0,446.8 95.9,446.0 C98.8,445.2 100.9,445.1 104.6,444.6 C108.3,444.1 110.1,444.2 114.4,443.7 C118.7,443.2 121.9,443.1 126.1,442.3 C130.3,441.5 131.5,441.6 135.4,439.6 C139.3,437.6 142.5,435.1 145.8,432.4 C149.1,429.7 148.7,428.2 152.0,426.1 C155.3,424.0 159.1,422.9 162.4,422.0 C165.7,421.1 166.2,422.0 168.7,421.6 C171.2,421.2 172.0,421.3 174.9,419.9 C177.8,418.5 179.9,416.6 183.2,414.7 C186.5,412.8 188.2,412.4 191.5,410.5 C194.8,408.6 196.7,406.9 199.8,405.3 C202.9,403.7 204.0,403.4 207.0,402.3 C210.0,401.2 211.9,401.4 215.0,399.9 C218.1,398.4 219.4,396.8 222.3,395.0 C225.2,393.2 226.7,392.3 229.6,390.7 C232.5,389.1 234.1,388.7 237.0,387.1 C239.9,385.5 241.4,384.3 244.3,382.8 C247.2,381.3 248.9,381.1 251.6,379.8 C254.3,378.5 255.3,377.7 257.7,376.1 C260.1,374.5 261.3,373.7 263.8,371.8 C266.3,369.9 267.2,368.6 270.0,366.5 C272.8,364.4 275.0,363.4 277.6,361.5 C280.2,359.6 279.5,359.7 283.2,357.0 C286.9,354.3 290.8,352.2 296.2,348.0 C301.6,343.8 304.9,341.2 310.2,336.0 C315.5,330.8 318.3,327.8 322.9,322.1 C327.5,316.4 329.9,312.7 333.4,307.5 C336.9,302.3 337.6,300.2 340.2,296.2 C342.8,292.2 344.6,290.1 346.2,287.7 C347.8,285.3 347.6,285.1 348.0,284.4" stroke="#14b060" stroke-width="1.6" stroke-dasharray="4.6 4.6"/>
<path d="M51.9,399.9 C53.1,399.5 55.1,398.7 57.8,398.0 C60.5,397.3 62.1,397.1 65.6,396.6 C69.1,396.1 71.9,396.1 75.4,395.6 C78.9,395.1 79.9,394.9 83.2,394.0 C86.5,393.1 89.1,391.7 92.0,391.3 C94.9,390.9 95.5,391.5 97.8,392.0 C100.1,392.5 101.2,393.7 103.7,393.8 C106.2,393.9 107.6,393.0 110.5,392.6 C113.4,392.2 115.6,392.0 118.3,391.7 C121.0,391.4 121.8,391.7 124.1,391.3 C126.4,390.9 127.7,390.2 130.0,389.8 C132.3,389.4 132.2,389.8 135.4,389.2 C138.6,388.6 141.6,387.8 145.8,387.0 C150.0,386.2 152.0,385.5 156.2,385.0 C160.4,384.5 162.4,385.0 166.6,384.7 C170.8,384.4 172.8,384.0 177.0,383.5 C181.2,383.0 183.2,382.8 187.4,382.2 C191.6,381.6 195.1,381.0 197.8,380.3 C200.5,379.6 199.2,379.5 201.1,378.8 C203.0,378.1 204.8,377.6 207.2,377.0 C209.6,376.4 210.9,376.4 213.3,375.7 C215.7,375.0 217.0,374.4 219.4,373.3 C221.8,372.2 223.1,371.3 225.5,370.4 C227.9,369.5 229.2,369.5 231.6,369.0 C234.0,368.5 235.3,368.9 237.7,367.8 C240.1,366.7 241.8,364.9 243.8,363.6 C245.8,362.3 245.9,362.5 247.9,361.5 C249.9,360.5 251.6,359.6 254.0,358.4 C256.4,357.2 257.6,356.6 260.1,355.7 C262.6,354.8 264.2,355.1 266.7,354.0 C269.2,352.9 270.3,351.6 272.6,350.0 C274.9,348.4 276.1,347.3 278.4,346.0 C280.7,344.7 281.7,344.9 284.3,343.7 C286.9,342.5 288.7,341.5 291.6,339.8 C294.5,338.1 296.0,337.3 298.9,335.4 C301.8,333.5 303.0,332.4 306.2,330.2 C309.4,328.0 311.7,326.5 315.0,324.2 C318.3,321.9 319.9,320.9 322.9,318.5 C325.9,316.1 327.2,314.5 330.0,312.4 C332.8,310.3 334.1,310.4 336.8,308.2 C339.5,306.0 341.0,304.2 343.7,301.3 C346.4,298.4 348.1,296.4 350.5,293.7 C352.9,291.0 353.6,289.9 355.6,288.0 C357.6,286.1 359.7,285.1 360.7,284.4" stroke="#686868" stroke-width="2.4"/>
<path d="M51.9,429.8L61.7,415.5" stroke="#ff2410" stroke-width="2.7" stroke-linecap="round"/>
<path d="M61.7,415.5 C64.0,415.5 68.5,416.1 73.0,415.5 C77.5,414.9 79.6,414.0 84.1,412.3 C88.6,410.6 90.8,408.4 95.3,407.2 C99.8,406.0 102.0,406.7 106.6,406.4 C111.2,406.1 113.8,406.4 118.3,405.8 C122.8,405.2 124.6,404.6 129.1,403.6 C133.6,402.6 136.0,401.4 140.6,400.6 C145.2,399.8 147.5,399.9 152.0,399.5 C156.5,399.1 158.5,399.0 163.0,398.7 C167.5,398.4 169.9,398.7 174.5,398.1 C179.1,397.5 181.4,396.5 185.9,395.6 C190.4,394.7 192.6,394.4 197.0,393.7 C201.4,393.0 203.5,393.2 208.0,392.0 C212.5,390.8 215.2,389.4 219.6,387.8 C224.0,386.2 225.8,385.6 230.2,384.0 C234.6,382.4 237.2,381.5 241.8,379.7 C246.4,377.9 248.5,376.8 253.0,374.8 C257.5,372.8 260.0,371.5 264.5,369.5 C269.0,367.5 271.3,366.3 275.6,364.6 C279.9,362.9 281.7,362.9 286.2,361.0 C290.7,359.1 293.3,357.7 297.9,355.1 C302.5,352.5 304.7,350.7 309.2,348.0 C313.7,345.3 315.8,344.3 320.3,341.4 C324.8,338.5 327.0,336.8 331.5,333.3 C336.0,329.8 338.3,327.9 342.8,324.1 C347.3,320.3 349.5,318.3 353.9,314.1 C358.3,309.9 360.6,308.3 365.0,303.0 C369.4,297.7 373.2,291.4 376.1,287.7 C379.0,284.0 378.8,285.1 379.5,284.4" stroke="#ff2410" stroke-width="2.7"/>
<path d="M61.7,411.9L64.8,415.5L61.7,419.1L58.6,415.5Z" fill="#ff2410" stroke="none"/>
<path d="M73.0,411.9L76.1,415.5L73.0,419.1L69.9,415.5Z" fill="#ff2410" stroke="none"/>
<path d="M84.1,408.7L87.2,412.3L84.1,415.9L81.0,412.3Z" fill="#ff2410" stroke="none"/>
<path d="M95.3,403.6L98.4,407.2L95.3,410.8L92.2,407.2Z" fill="#ff2410" stroke="none"/>
<path d="M106.6,402.8L109.7,406.4L106.6,410.0L103.5,406.4Z" fill="#ff2410" stroke="none"/>
<path d="M118.3,402.2L121.4,405.8L118.3,409.4L115.2,405.8Z" fill="#ff2410" stroke="none"/>
<path d="M129.1,400.0L132.2,403.6L129.1,407.2L126.0,403.6Z" fill="#ff2410" stroke="none"/>
<path d="M140.6,397.0L143.7,400.6L140.6,404.2L137.5,400.6Z" fill="#ff2410" stroke="none"/>
<path d="M152.0,395.9L155.1,399.5L152.0,403.1L148.9,399.5Z" fill="#ff2410" stroke="none"/>
<path d="M163.0,395.1L166.1,398.7L163.0,402.3L159.9,398.7Z" fill="#ff2410" stroke="none"/>
<path d="M174.5,394.5L177.6,398.1L174.5,401.7L171.4,398.1Z" fill="#ff2410" stroke="none"/>
<path d="M185.9,392.0L189.0,395.6L185.9,399.2L182.8,395.6Z" fill="#ff2410" stroke="none"/>
<path d="M197.0,390.1L200.1,393.7L197.0,397.3L193.9,393.7Z" fill="#ff2410" stroke="none"/>
<path d="M208.0,388.4L211.1,392.0L208.0,395.6L204.9,392.0Z" fill="#ff2410" stroke="none"/>
<path d="M219.6,384.2L222.7,387.8L219.6,391.4L216.5,387.8Z" fill="#ff2410" stroke="none"/>
<path d="M230.2,380.4L233.3,384.0L230.2,387.6L227.1,384.0Z" fill="#ff2410" stroke="none"/>
<path d="M241.8,376.1L244.9,379.7L241.8,383.3L238.7,379.7Z" fill="#ff2410" stroke="none"/>
<path d="M253.0,371.2L256.1,374.8L253.0,378.4L249.9,374.8Z" fill="#ff2410" stroke="none"/>
<path d="M264.5,365.9L267.6,369.5L264.5,373.1L261.4,369.5Z" fill="#ff2410" stroke="none"/>
<path d="M275.6,361.0L278.7,364.6L275.6,368.2L272.5,364.6Z" fill="#ff2410" stroke="none"/>
<path d="M286.2,357.4L289.3,361.0L286.2,364.6L283.1,361.0Z" fill="#ff2410" stroke="none"/>
<path d="M297.9,351.5L301.0,355.1L297.9,358.7L294.8,355.1Z" fill="#ff2410" stroke="none"/>
<path d="M309.2,344.4L312.3,348.0L309.2,351.6L306.1,348.0Z" fill="#ff2410" stroke="none"/>
<path d="M320.3,337.8L323.4,341.4L320.3,345.0L317.2,341.4Z" fill="#ff2410" stroke="none"/>
<path d="M331.5,329.7L334.6,333.3L331.5,336.9L328.4,333.3Z" fill="#ff2410" stroke="none"/>
<path d="M342.8,320.5L345.9,324.1L342.8,327.7L339.7,324.1Z" fill="#ff2410" stroke="none"/>
<path d="M353.9,310.5L357.0,314.1L353.9,317.7L350.8,314.1Z" fill="#ff2410" stroke="none"/>
<path d="M365.0,299.4L368.1,303.0L365.0,306.6L361.9,303.0Z" fill="#ff2410" stroke="none"/>
<path d="M376.1,284.1L379.2,287.7L376.1,291.3L373.0,287.7Z" fill="#ff2410" stroke="none"/>
</g></svg>
<path d="M267.4,430.1H291.2" stroke="#686868" stroke-width="2.2"/>
<path d="M267.4,445.8H291.2" stroke="#ff2410" stroke-width="2.4"/><path d="M279.5,443.5L281.8,445.8L279.5,448.1L277.2,445.8Z" fill="#ff2410"/>
<path d="M267.4,462.2H291.2" stroke="#14b060" stroke-width="1.6" stroke-dasharray="4.7 4.8"/>
<path d="M267.6,479H291.2" stroke="#12b2f0" stroke-width="2" stroke-dasharray="0.1 4.4" stroke-linecap="round"/>
<path d="M267.6,494.3H291.2" stroke="#7434a8" stroke-width="1.8" stroke-dasharray="0.1 4" stroke-linecap="round"/><path d="M279.5,491.0L282.5,496.7L276.5,496.7Z" fill="#7434a8"/>
<svg x="51.9" y="284.4" width="344.6" height="216.0" viewBox="51.9 284.4 344.6 216.0" overflow="hidden">
<text x="293.6" y="433.4" class="lgb">P3HT:PCBM</text>
<text x="293.6" y="449.1" class="lgb">P3HT:PCBM-PA</text>
<text x="293.6" y="465.5" class="lgb">P3HT Nominal 0.5wt% SG-SWNT:PCBM</text>
<text x="293.6" y="482.3" class="lgb">P3HT Nominal 0.5wt% N-SWNT:PCBM</text>
<text x="293.6" y="497.6" class="lgb">P3HT Nominal 0.5wt% N-SWNT:PCBM-PA</text>
</svg>
<path d="M98.4,292.2V351.3H195.4" stroke="#222" stroke-width="0.9" fill="none"/>
<path d="M96.80000000000001,296.1H98.4" stroke="#222" stroke-width="0.7"/>
<text transform="translate(96.0,298.2) scale(1.28,1)" text-anchor="end" class="ins">2.0</text>
<path d="M96.80000000000001,303.4H98.4" stroke="#222" stroke-width="0.7"/>
<text transform="translate(96.0,305.5) scale(1.28,1)" text-anchor="end" class="ins">1.8</text>
<path d="M96.80000000000001,310.7H98.4" stroke="#222" stroke-width="0.7"/>
<text transform="translate(96.0,312.8) scale(1.28,1)" text-anchor="end" class="ins">1.6</text>
<path d="M96.80000000000001,318.0H98.4" stroke="#222" stroke-width="0.7"/>
<text transform="translate(96.0,320.1) scale(1.28,1)" text-anchor="end" class="ins">1.4</text>
<path d="M96.80000000000001,325.3H98.4" stroke="#222" stroke-width="0.7"/>
<text transform="translate(96.0,327.4) scale(1.28,1)" text-anchor="end" class="ins">1.2</text>
<path d="M96.80000000000001,332.6H98.4" stroke="#222" stroke-width="0.7"/>
<text transform="translate(96.0,334.7) scale(1.28,1)" text-anchor="end" class="ins">1.0</text>
<path d="M96.80000000000001,339.9H98.4" stroke="#222" stroke-width="0.7"/>
<text transform="translate(96.0,342.0) scale(1.28,1)" text-anchor="end" class="ins">0.8</text>
<path d="M96.80000000000001,347.2H98.4" stroke="#222" stroke-width="0.7"/>
<text transform="translate(96.0,349.3) scale(1.28,1)" text-anchor="end" class="ins">0.6</text>
<text transform="translate(83.2,320.4) rotate(-90)" text-anchor="middle" class="insl">PCE</text>
<rect x="104.3" y="332.6" width="13.4" height="5.1" fill="#fff" stroke="#222" stroke-width="0.8"/>
<path d="M104.3,334.1H117.7M111.0,329.0V332.6M111.0,337.7V339.9M109.5,329.0H112.5M109.5,339.9H112.5M111.0,351.3V352.90000000000003" stroke="#222" stroke-width="0.7" fill="none"/>
<rect x="128.5" y="325.3" width="13.4" height="4.4" fill="#fff" stroke="#222" stroke-width="0.8"/>
<path d="M128.5,327.1H141.9M135.2,325.3V325.3M135.2,329.7V332.6M133.7,325.3H136.7M133.7,332.6H136.7M135.2,351.3V352.90000000000003" stroke="#222" stroke-width="0.7" fill="none"/>
<rect x="152.6" y="328.2" width="13.4" height="8.0" fill="#fff" stroke="#222" stroke-width="0.8"/>
<path d="M152.6,331.1H166.0M159.3,327.1V328.2M159.3,336.2V339.9M157.8,327.1H160.8M157.8,339.9H160.8M159.3,351.3V352.90000000000003" stroke="#222" stroke-width="0.7" fill="none"/>
<rect x="177.3" y="297.9" width="13.4" height="9.1" fill="#fff" stroke="#222" stroke-width="0.8"/>
<path d="M177.3,303.4H190.7M184.0,296.1V297.9M184.0,307.1V310.7M182.5,296.1H185.5M182.5,310.7H185.5M184.0,351.3V352.90000000000003" stroke="#222" stroke-width="0.7" fill="none"/>
<text x="103" y="361.6" class="insx">P3HT</text>
<text x="128" y="358.8" class="insx">P3HT-</text>
<text x="128" y="366.8" class="insx">PA</text>
<text x="150.5" y="358.8" class="insx">Nominal</text>
<text x="150.5" y="366.8" class="insx">0.5wt%</text>
<text x="177.4" y="358.8" class="insx">Nominal</text>
<text x="177.4" y="366.8" class="insx">0.5wt%-PA</text>
</svg>
</body></html>
